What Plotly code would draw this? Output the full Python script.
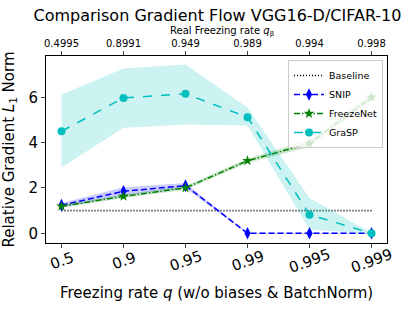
import plotly.graph_objects as go

q_labels = ["0.5", "0.9", "0.95", "0.99", "0.995", "0.999"]
q_beta_labels = ["0.4995", "0.8991", "0.949", "0.989", "0.994", "0.998"]
baseline = [1, 1, 1, 1, 1, 1]
snip_mean = [1.24, 1.85, 2.1, 0.0, 0.0, 0.0]
snip_std = [0.1, 0.18, 0.12, 0.02, 0.02, 0.02]
freeze_mean = [1.19, 1.63, 2.0, 3.2, 3.96, 6.0]
freeze_std = [0.08, 0.08, 0.08, 0.1, 0.15, 0.15]
grasp_mean = [4.5, 5.97, 6.15, 5.12, 0.82, 0.0]
grasp_upper = [6.12, 7.27, 7.44, 5.55, 1.55, 0.02]
grasp_lower = [2.9, 4.65, 4.8, 4.75, 0.15, -0.02]

idx = list(range(len(q_labels)))
font = "DejaVu Sans"

fig = go.Figure()

def band(upper, lower, color):
    fig.add_trace(go.Scatter(x=idx + idx[::-1], y=list(upper) + list(lower)[::-1],
                             fill="toself", fillcolor=color, line=dict(width=0),
                             mode="lines", hoverinfo="skip", showlegend=False))

fig.add_trace(go.Scatter(x=idx, y=baseline, mode="lines", name="Baseline",
                         line=dict(color="black", width=1.6, dash="1px,2px")))

band([m + s for m, s in zip(snip_mean, snip_std)], [m - s for m, s in zip(snip_mean, snip_std)],
     "rgba(0,0,255,0.2)")
fig.add_trace(go.Scatter(x=idx, y=snip_mean, mode="lines+markers", name="SNIP",
                         line=dict(color="#0000ff", width=1.5, dash="6px,3px"),
                         marker=dict(symbol="diamond-tall", size=9, color="#0000ff")))

band([m + s for m, s in zip(freeze_mean, freeze_std)], [m - s for m, s in zip(freeze_mean, freeze_std)],
     "rgba(0,128,0,0.2)")
fig.add_trace(go.Scatter(x=idx, y=freeze_mean, mode="lines+markers", name="FreezeNet",
                         line=dict(color="#008000", width=1.5, dash="6px,2px,1.5px,2px"),
                         marker=dict(symbol="star", size=8, color="#008000")))

band(grasp_upper, grasp_lower, "rgba(0,191,191,0.2)")
fig.add_trace(go.Scatter(x=idx, y=grasp_mean, mode="lines+markers", name="GraSP",
                         line=dict(color="#00bfbf", width=1.5, dash="9px,9px"),
                         marker=dict(symbol="circle", size=8, color="#00bfbf")))

# invisible trace for top axis
fig.add_trace(go.Scatter(x=idx, y=baseline, xaxis="x2", mode="lines", opacity=0,
                         showlegend=False, hoverinfo="skip"))

H, W = 312, 415
mt, mb, ml, mr = 56, 69, 46, 28
plot_h = H - mt - mb
plot_w = W - ml - mr

def py(px_y):
    # page pixel y -> paper y
    return (H - mb - px_y) / plot_h

annotations = [
    dict(text="Real Freezing rate <i>q</i><sub>β</sub>", xref="paper", yref="paper",
         x=(222 - ml) / plot_w, y=py(31.5), yanchor="middle", xanchor="center",
         showarrow=False, font=dict(size=10, family=font)),
    dict(text="Freezing rate <i>q</i> (w/o biases &amp; BatchNorm)", xref="paper", yref="paper",
         x=(216 - ml) / plot_w, y=py(293), yanchor="middle", xanchor="center",
         showarrow=False, font=dict(size=15, family=font)),
]
for i, lab in zip(idx, q_labels):
    annotations.append(dict(text=lab, xref="x", yref="paper", x=i, y=py(260.5),
                            xanchor="center", yanchor="middle", textangle=-20,
                            showarrow=False, font=dict(size=15, family=font)))

fig.update_layout(
    width=W, height=H,
    margin=dict(l=ml, r=mr, t=mt, b=mb),
    plot_bgcolor="white", paper_bgcolor="white",
    font=dict(family=font, color="black"),
    title=dict(text="Comparison Gradient Flow VGG16-D/CIFAR-10", x=217.5 / W, xanchor="center",
               y=(H - 15.5) / H, yanchor="middle", font=dict(size=16, family=font)),
    xaxis=dict(range=[-0.25, 5.25], tickmode="array", tickvals=idx, showticklabels=False,
               ticks="outside", ticklen=4,
               showline=True, linecolor="black", linewidth=1, mirror=True,
               showgrid=False, zeroline=False, automargin=False),
    xaxis2=dict(range=[-0.25, 5.25], overlaying="x", side="top", tickmode="array",
                tickvals=idx, ticktext=q_beta_labels, tickfont=dict(size=10),
                ticks="outside", ticklen=4, showgrid=False, zeroline=False, automargin=False),
    yaxis=dict(range=[-0.43, 7.82], tickvals=[0, 2, 4, 6], tickfont=dict(size=15),
               ticks="outside", ticklen=4, showline=True, linecolor="black", linewidth=1,
               mirror=True, showgrid=False, zeroline=False, automargin=False,
               title=dict(text="Relative Gradient <i>L</i><sub>1</sub> Norm",
                          font=dict(size=15))),
    annotations=annotations,
    legend=dict(x=(383 - ml) / plot_w, y=py(60), xanchor="right", yanchor="top",
                bgcolor="rgba(255,255,255,0.8)", bordercolor="#cccccc", borderwidth=1,
                font=dict(size=9.5), tracegroupgap=0, itemwidth=30),
    showlegend=True,
)

fig.write_html("out.html", config={"displayModeBar": False},
               post_script="document.body.style.margin='0';document.body.style.padding='0';")
